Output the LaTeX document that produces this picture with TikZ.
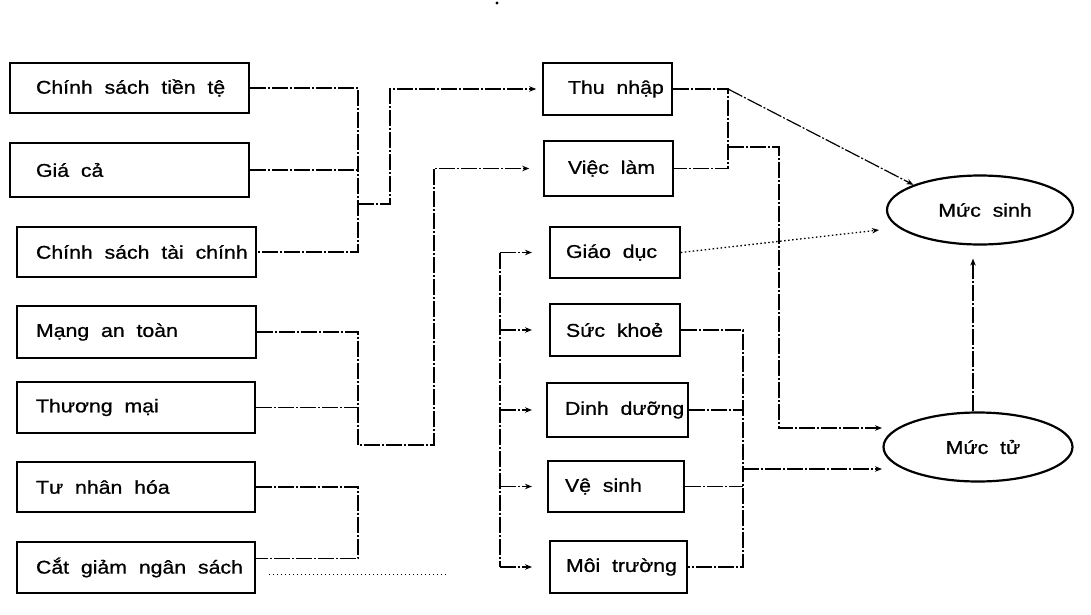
\documentclass[tikz,border=0pt]{standalone}
\usepackage{fontspec}
\setmainfont{Liberation Sans}[FakeStretch=1.15,WordSpace=2,FakeBold=0.8]
\usetikzlibrary{arrows.meta,calc,shapes.geometric}
\newcommand\mybox[7]{%
 \pgfmathsetlengthmacro\myBW{#4-#2}%
 \pgfmathsetlengthmacro\myBH{#5-#3}%
 \pgfmathsetlengthmacro\myBP{#6-#2}%
 \node[box,minimum width=\myBW,minimum height=\myBH] (#1) at ({(#2+#4)/2},{(#3+#5)/2}) {\makebox[\myBW][l]{\hspace*{\myBP}#7}};}
\begin{document}
\begin{tikzpicture}[x=1pt,y=-1pt,
  box/.style={draw,line width=1.6pt,inner sep=0pt,font=\fontsize{18.5}{22}\selectfont},
  oval/.style={draw,ellipse,line width=2.2pt,inner sep=0pt,font=\fontsize{18.5}{22}\selectfont},
  conn/.style={line width=1.2pt,dash pattern=on 16pt off 2pt on 2pt off 2pt},
  dotconn/.style={line width=1.3pt,dash pattern=on 1.5pt off 2.5pt},
  tip/.style={-{Stealth[length=7pt,width=5.5pt]}},
]
\useasboundingbox (0,0) rectangle (1091,615);
\fill (497,3) circle (1.6pt);

% left column
\mybox{L1}{10}{63}{249}{113}{36}{Chính sách tiền tệ}
\mybox{L2}{10}{143}{249}{197}{36}{Giá cả}
\mybox{L3}{17}{227}{256}{277}{36}{Chính sách tài chính}
\mybox{L4}{17}{306}{256}{358}{36}{Mạng an toàn}
\mybox{L5}{17}{382}{255}{433}{36}{Thương mại}
\mybox{L6}{17}{462}{255}{512}{36}{Tư nhân hóa}
\mybox{L7}{17}{542}{255}{593}{36}{Cắt giảm ngân sách}

% middle column
\mybox{R1}{543}{63}{672}{115}{568}{Thu nhập}
\mybox{R2}{544}{141}{673}{196}{568}{Việc làm}
\mybox{R3}{550}{227}{680}{278}{566}{Giáo dục}
\mybox{R4}{550}{304}{680}{356}{566}{Sức khoẻ}
\mybox{R5}{547}{383}{688}{437}{565}{Dinh dưỡng}
\mybox{R6}{548}{461}{684}{512}{565}{Vệ sinh}
\mybox{R7}{550}{541}{687}{593}{566}{Môi trường}

% outcomes
\node[oval,minimum width=186pt,minimum height=69pt] (ms) at (980,210) {\hspace*{10pt}Mức sinh};
\node[oval,minimum width=189pt,minimum height=69pt] (mt) at (978,447) {\hspace*{10pt}Mức tử};

% helper coordinates
\coordinate (j1) at (358,204);
\coordinate (k1) at (390,204);
\coordinate (j2) at (358,445);
\coordinate (k2) at (434,445);
\coordinate (j3) at (358,485);
\coordinate (d) at (500,0);
\coordinate (t) at (532,0);
\coordinate (v1) at (728,0);
\coordinate (b1) at (728,147);
\coordinate (b2) at (779,147);
\coordinate (b3) at (779,428);
\coordinate (b4) at (882,428);
\coordinate (v2) at (743,0);
\coordinate (c1) at (743,469);
\coordinate (c2) at (882,469);
\coordinate (gs) at (879,230);
\coordinate (u) at (973,0);

% bracket 1 -> Thu nhap
\draw[conn] (L1.east) -- (L1.east -| j1) -- (L3.east -| j1) -- (L3.east);
\draw[conn] (L2.east) -- (L2.east -| j1);
\draw[conn,tip] (j1) -- (k1) -- (k1 |- R1.west) -- ($(R1.west)+(-6,0)$);

% bracket 2 -> Viec lam
\draw[conn,tip] (L4.east) -- (L4.east -| j2) -- (j2) -- (k2) -- (k2 |- R2.west) -- ($(R2.west)+(-14,0)$);
\draw[conn] (L5.east) -- (L5.east -| j2);

% bracket 3
\draw[conn] (L6.east) -- (L6.east -| j3) -- ($(L7.east -| j3)+(0,-9)$) -- ($(L7.east)+(0,-9)$);
\draw[dotconn] ($(L7.east)+(13,7)$) -- ($(L7.east)+(192,7)$);

% distribution bracket
\draw[conn] (d |- R3.west) -- (d |- R7.west);
\draw[conn,tip] (d |- R3.west) -- (t |- R3.west);
\draw[conn,tip] (d |- R4.west) -- (t |- R4.west);
\draw[conn,tip] (d |- R5.west) -- (t |- R5.west);
\draw[conn,tip] (d |- R6.west) -- (t |- R6.west);
\draw[conn,tip] (d |- R7.west) -- (t |- R7.west);

% Thu nhap / Viec lam outputs
\draw[conn] (R1.east) -- (R1.east -| v1) -- (R2.east -| v1) -- (R2.east);
\draw[conn,tip] (R1.east -| v1) -- (ms.north west);
\draw[conn,tip] (b1) -- (b2) -- (b3) -- (b4);

% Giao duc -> Muc sinh
\draw[dotconn,tip] (R3.east) -- (gs);

% health group -> Muc tu
\draw[conn] (R4.east) -- (R4.east -| v2) -- (R7.east -| v2) -- (R7.east);
\draw[conn] (R5.east) -- (R5.east -| v2);
\draw[conn] (R6.east) -- (R6.east -| v2);
\draw[conn,tip] (c1) -- (c2);

% Muc tu -> Muc sinh
\draw[conn,tip] (u |- mt.north) -- ($(u |- ms.south)+(0,13)$);
\end{tikzpicture}
\end{document}
